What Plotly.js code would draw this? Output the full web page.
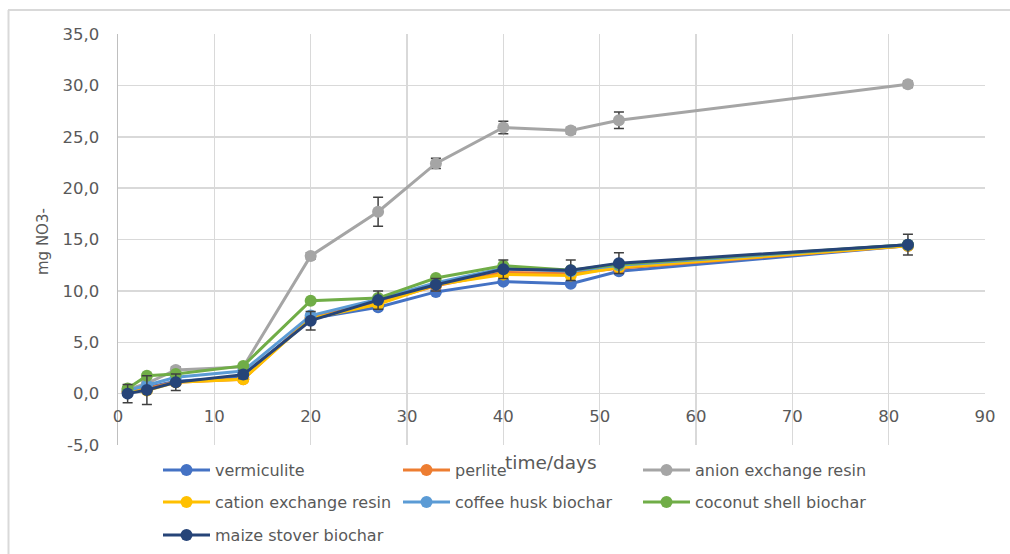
<!DOCTYPE html>
<html>
<head>
<meta charset="utf-8">
<script src="https://cdn.plot.ly/plotly-3.0.1.min.js"></script>
<style>
html,body{margin:0;padding:0;background:#fff;}
#chart{width:1010px;height:554px;}
</style>
</head>
<body>
<div id="chart"></div>
<script>
const days = [1, 3, 6, 13, 20, 27, 33, 40, 47, 52, 82];

const vermiculite = [0.1, 0.6, 1.2, 1.6, 7.3, 8.4, 9.9, 10.9, 10.7, 11.9, 14.4];
const perlite     = [0.2, 0.5, 1.1, 1.4, 7.4, 8.9, 10.5, 11.8, 11.7, 12.2, 14.4];
const anion       = [0.4, 1.0, 2.3, 2.6, 13.4, 17.7, 22.4, 25.9, 25.6, 26.6, 30.1];
const cation      = [0.2, 0.3, 1.1, 1.4, 7.3, 8.7, 10.6, 11.6, 11.5, 12.3, 14.4];
const coffee      = [0.3, 0.8, 1.6, 2.2, 7.6, 9.2, 10.8, 12.2, 11.9, 12.5, 14.5];
const coconut     = [0.5, 1.75, 1.9, 2.7, 9.05, 9.3, 11.25, 12.45, 12.0, 12.6, 14.5];
const maize       = [0.0, 0.35, 1.1, 1.85, 7.1, 9.1, 10.6, 12.1, 12.0, 12.7, 14.5];

const anionErr = [0.1, 0.2, 0.3, 0.3, 0.3, 1.4, 0.5, 0.6, 0.3, 0.8, 0.3];
const maizeErr = [0.9, 1.4, 0.8, 0.4, 0.9, 0.9, 0.6, 0.9, 1.0, 1.0, 1.0];

const yTicks = [-5, 0, 5, 10, 15, 20, 25, 30, 35];
const yTickText = ['-5,0', '0,0', '5,0', '10,0', '15,0', '20,0', '25,0', '30,0', '35,0'];
const xTicks = [0, 10, 20, 30, 40, 50, 60, 70, 80, 90];

const names = ['vermiculite', 'perlite', 'anion exchange resin', 'cation exchange resin',
               'coffee husk biochar', 'coconut shell biochar', 'maize stover biochar'];
const colors = ['#4472C4', '#ED7D31', '#A5A5A5', '#FFC000', '#5B9BD5', '#70AD47', '#264478'];
const series = [vermiculite, perlite, anion, cation, coffee, coconut, maize];
const legendIds = ['legend', 'legend', 'legend', 'legend2', 'legend2', 'legend2', 'legend3'];
const errs = [null, null, anionErr, null, null, null, maizeErr];

const traces = series.map((ys, i) => {
  const t = {
    x: days, y: ys, name: names[i], type: 'scatter', mode: 'lines+markers',
    line: {color: colors[i], width: 3},
    marker: {color: colors[i], size: 12, symbol: 'circle'},
    legend: legendIds[i]
  };
  if (errs[i]) {
    t.error_y = {type: 'data', array: errs[i], visible: true, color: '#404040', thickness: 1.5, width: 5};
  }
  return t;
});

const W = 867, H = 411, L = 118, T = 34;
function px(x){ return (x - L) / W; }
function py(y){ return (T + H - y) / H; }

const FAM = '"DejaVu Sans", "Open Sans", sans-serif';
const tickFont = {family: FAM, size: 16.5, color: '#595959'};
const legFont = {family: FAM, size: 16, color: '#595959'};
const legBase = {orientation: 'h', x: px(158), xanchor: 'left', yanchor: 'middle',
  itemwidth: 47, entrywidth: 178, entrywidthmode: 'pixels', font: legFont,
  bgcolor: 'rgba(0,0,0,0)', itemclick: false};

const layout = {
  width: 1010, height: 554,
  margin: {l: L, r: 1010 - L - W, t: T, b: 554 - T - H, autoexpand: false},
  paper_bgcolor: '#fff', plot_bgcolor: '#fff',
  font: tickFont,
  showlegend: true,
  xaxis: {
    range: [0, 90], tickvals: xTicks, ticktext: xTicks.map(String),
    showgrid: true, gridcolor: '#d9d9d9', gridwidth: 1.5,
    zeroline: false, showline: false, ticks: '',
    anchor: 'free', position: 5 / 40, ticklabelstandoff: 11,
    tickfont: tickFont, automargin: false
  },
  yaxis: {
    range: [-5, 35], tickvals: yTicks, ticktext: yTickText,
    showgrid: true, gridcolor: '#d9d9d9', gridwidth: 1.5,
    zeroline: false, showline: true, linecolor: '#bfbfbf', linewidth: 1.5,
    ticks: '', ticklabelstandoff: 14, tickfont: tickFont, automargin: false
  },
  legend: Object.assign({}, legBase, {y: py(470)}),
  legend2: Object.assign({}, legBase, {y: py(502)}),
  legend3: Object.assign({}, legBase, {y: py(535)}),
  annotations: [
    {text: 'time/days', xref: 'paper', yref: 'paper', x: px(551), y: py(462),
     xanchor: 'center', yanchor: 'middle', showarrow: false, font: {family: FAM, size: 18.5, color: '#595959'}},
    {text: 'mg NO3-', xref: 'paper', yref: 'paper', x: px(43), y: py(242), textangle: -90,
     xanchor: 'center', yanchor: 'middle', showarrow: false, font: {family: FAM, size: 15, color: '#595959'}}
  ],
  shapes: [
    {type: 'line', xref: 'paper', yref: 'paper', x0: px(8), x1: px(1012), y0: py(10), y1: py(10),
     line: {color: '#d9d9d9', width: 2}},
    {type: 'line', xref: 'paper', yref: 'paper', x0: px(8.5), x1: px(8.5), y0: py(10), y1: py(556),
     line: {color: '#d9d9d9', width: 2}}
  ]
};

Plotly.newPlot('chart', traces, layout, {displayModeBar: false, staticPlot: true});
</script>
</body>
</html>
